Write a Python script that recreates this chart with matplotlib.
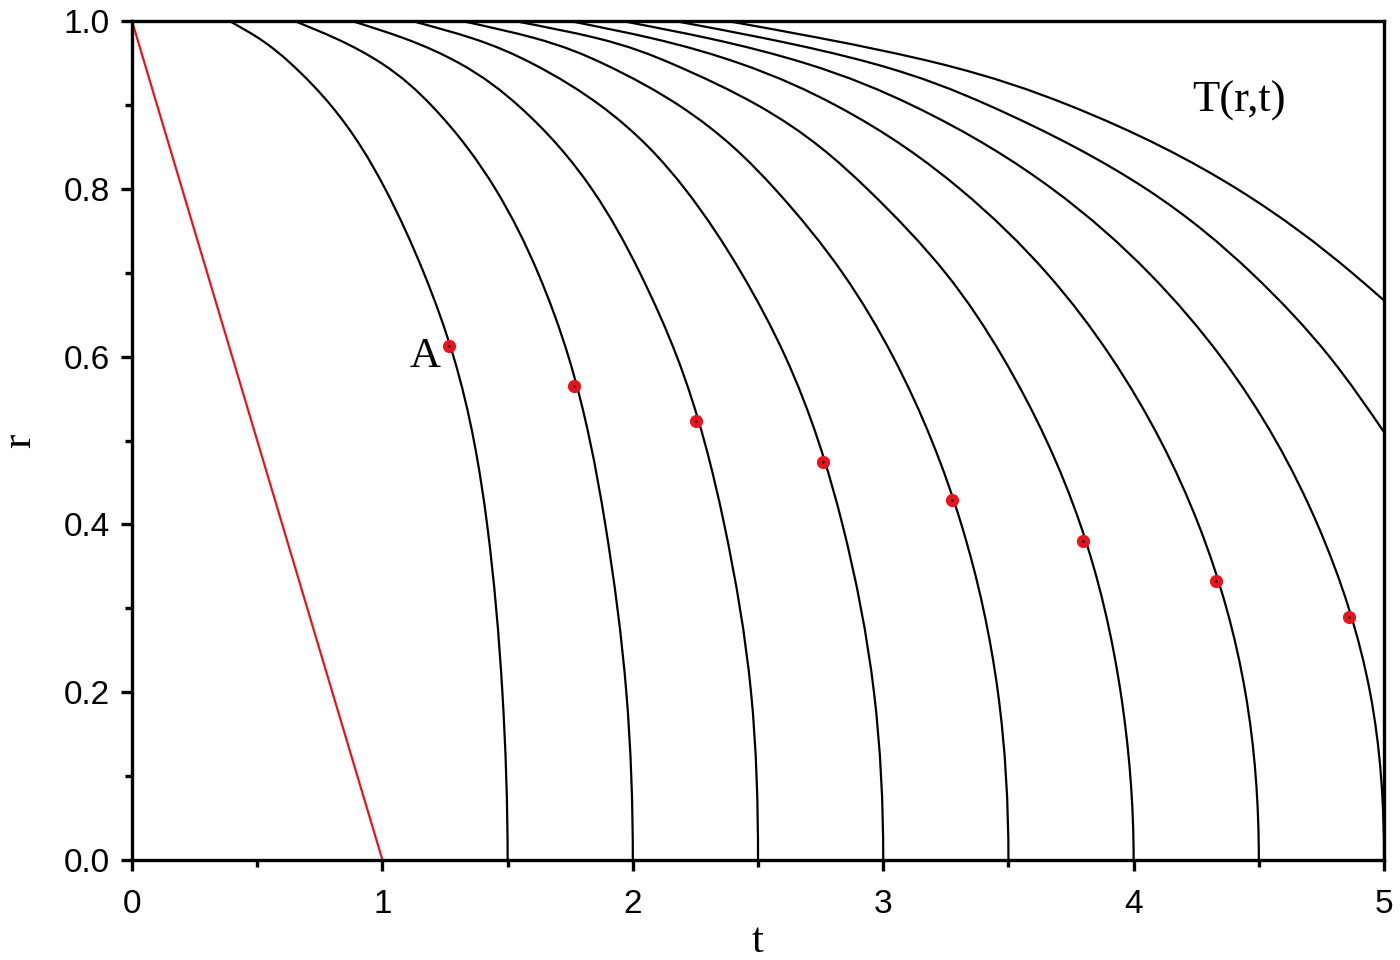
import numpy as np
import matplotlib
matplotlib.use('Agg')
import matplotlib.pyplot as plt
from matplotlib.path import Path
from matplotlib.patches import PathPatch

# r levels at which the curves were read
r_levels = [0.0, 0.2, 0.4, 0.6, 0.7, 0.8, 0.9, 0.95, 0.98, 1.0]

# t position of each curve at those r levels (curve labelled by t where r=0)
t_15 = [1.5, 1.479, 1.418, 1.284, 1.165, 1.011, 0.793, 0.632, 0.504, 0.39]
t_20 = [2.0, 1.974, 1.890, 1.743, 1.621, 1.451, 1.194, 0.995, 0.809, 0.65]
t_25 = [2.5, 2.472, 2.365, 2.176, 2.028, 1.836, 1.540, 1.306, 1.082, 0.88]
t_30 = [3.0, 2.963, 2.837, 2.609, 2.433, 2.208, 1.868, 1.595, 1.354, 1.12]
t_35 = [3.5, 3.458, 3.312, 3.039, 2.837, 2.567, 2.182, 1.877, 1.605, 1.32]
t_40 = [4.0, 3.948, 3.787, 3.476, 3.248, 2.936, 2.497, 2.150, 1.852, 1.53]
t_45 = [4.5, 4.446, 4.259, 3.909, 3.652, 3.306, 2.808, 2.423, 2.070, 1.75]
t_50 = [5.0, 4.944, 4.734, 4.348, 4.060, 3.675, 3.113, 2.686, 2.295, 1.96]

# the two curves that leave through the right edge
r_55 = [0.51, 0.6, 0.7, 0.8, 0.9, 0.95, 0.98, 1.0]
t_55 = [5.0, 4.782, 4.470, 4.050, 3.418, 2.953, 2.519, 2.17]
r_60 = [0.667, 0.7, 0.8, 0.9, 0.95, 0.98, 1.0]
t_60 = [5.0, 4.872, 4.413, 3.739, 3.216, 2.744, 2.38]

# red straight line
red_t = [0.0, 1.0]
red_r = [1.0, 0.0]

# red points on the curves
pts_t = [1.266, 1.765, 2.252, 2.760, 3.275, 3.798, 4.329, 4.860]
pts_r = [0.613, 0.565, 0.523, 0.474, 0.429, 0.380, 0.3325, 0.2896]


def smooth_curve(ax, t, r, vertical_start):
    # draw t(r) as a bezier path through the read points (cubic spline slopes)
    t = np.asarray(t, float)
    r = np.asarray(r, float)
    n = len(t)
    h = np.diff(r)
    d = np.diff(t) / h
    A = np.zeros((n, n))
    b = np.zeros(n)
    if vertical_start:
        A[0, 0], A[0, 1], b[0] = 2 * h[0], h[0], 6 * d[0]
    else:
        A[0, 0] = 1.0
    for i in range(1, n - 1):
        A[i, i - 1] = h[i - 1]
        A[i, i] = 2 * (h[i - 1] + h[i])
        A[i, i + 1] = h[i]
        b[i] = 6 * (d[i] - d[i - 1])
    A[-1, -1] = 1.0
    M = np.linalg.solve(A, b)
    m = np.zeros(n)
    for i in range(n - 1):
        m[i] = d[i] - h[i] * (2 * M[i] + M[i + 1]) / 6
    m[-1] = d[-1] + h[-1] * (M[-2] + 2 * M[-1]) / 6
    verts = [(t[0], r[0])]
    codes = [Path.MOVETO]
    for i in range(n - 1):
        verts += [(t[i] + m[i] * h[i] / 3, r[i] + h[i] / 3),
                  (t[i + 1] - m[i + 1] * h[i] / 3, r[i + 1] - h[i] / 3),
                  (t[i + 1], r[i + 1])]
        codes += [Path.CURVE4] * 3
    ax.add_patch(PathPatch(Path(verts, codes), fill=False, ec='black',
                           lw=1.6, clip_on=True))


fig = plt.figure(figsize=(14, 9.6), dpi=100)
ax = fig.add_axes([0.0943, 0.1042, 0.8943, 0.8738])

for tt in [t_15, t_20, t_25, t_30, t_35, t_40, t_45, t_50]:
    smooth_curve(ax, tt, r_levels, True)
smooth_curve(ax, t_55, r_55, False)
smooth_curve(ax, t_60, r_60, False)

ax.plot(red_t, red_r, color='#e8141c', lw=1.6)
ax.plot(pts_t, pts_r, 'o', ls='none', ms=8.5, mfc='#e8141c', mec='#e8141c',
        mew=1, zorder=4)
ax.plot(pts_t, pts_r, 'o', ls='none', ms=2, mfc='#222222', mec='none',
        zorder=5)

ax.set_xlim(0, 5)
ax.set_ylim(0, 1)
ax.set_xticks([0, 1, 2, 3, 4, 5])
ax.set_xticks(np.arange(0.5, 5, 1.0), minor=True)
ax.set_yticks([0.0, 0.2, 0.4, 0.6, 0.8, 1.0])
ax.set_yticklabels(['0.0', '0.2', '0.4', '0.6', '0.8', '1.0'])
ax.set_yticks(np.arange(0.1, 1.0, 0.2), minor=True)

for s in ax.spines.values():
    s.set_linewidth(2.4)
ax.tick_params(which='major', direction='out', length=8, width=2.4,
               labelsize=24)
ax.tick_params(axis='x', which='major', pad=13)
ax.tick_params(axis='y', which='major', pad=8)
ax.tick_params(which='minor', direction='out', length=5, width=2.4)
for lab in ax.get_xticklabels() + ax.get_yticklabels():
    lab.set_family('Liberation Sans')

ax.set_xlabel('t', family='Liberation Serif', fontsize=31)
ax.xaxis.set_label_coords(0.5, -0.097)
ax.xaxis.label.set_va('center')
ax.set_ylabel('r', family='Liberation Serif', fontsize=31)
ax.yaxis.set_label_coords(-0.074, 0.5)

ax.text(1.17, 0.6, 'A', family='Liberation Serif', fontsize=31,
        ha='center', va='center')
ax.text(4.42, 0.905, 'T(r,t)', family='Liberation Serif', fontsize=32,
        ha='center', va='center')

fig.savefig('out.png', dpi=100)
